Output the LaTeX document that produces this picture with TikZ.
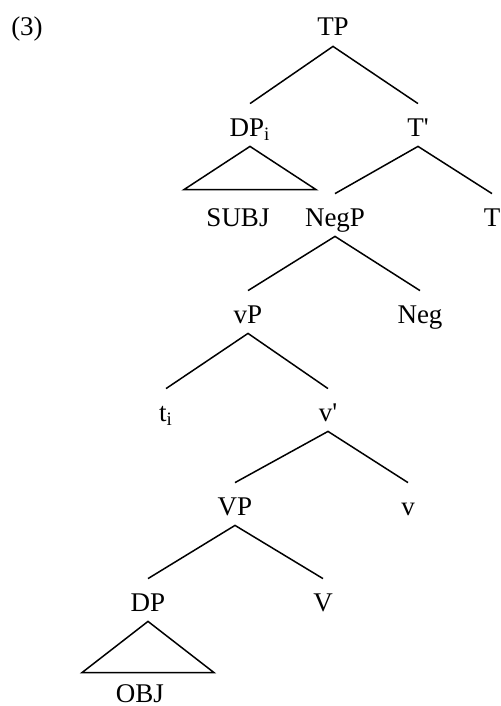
\documentclass[tikz,border=0pt]{standalone}
\usepackage{fontspec}
\setmainfont{Liberation Serif}
\usetikzlibrary{calc}
\tikzset{
    cat/.style={anchor=base, inner sep=0pt, text height=16pt, text depth=5pt},
    leaf/.style={anchor=base, inner sep=0pt, text height=18pt, text depth=5pt},
    branch/.style={line width=0.75pt}
}
\newcommand{\pr}{\textquotesingle}

\begin{document}
\begin{tikzpicture}[x=0.5pt, y=-0.5pt, font=\fontsize{13.5}{16}\selectfont]
    \useasboundingbox (0,0) rectangle (501,706);
    \node[anchor=base, inner sep=0pt] (ex) at (27,36) {(3)};
    % categories, placed on their baselines
    \node[cat] (tp)   at (333,36)  {TP};
    \node[cat] (dpi)  at (250,136) {DP\textsubscript{i}};
    \node[cat] (tbar) at (418,136) {T\pr};
    \node[leaf] (subj) at (238,226) {SUBJ};
    \node[cat] (negp) at (335,226) {NegP};
    \node[cat] (t)    at (492,226) {T};
    \node[cat] (vp)   at (248,323) {vP};
    \node[cat] (neg)  at (420,323) {Neg};
    \node[cat] (ti)   at (166,421) {t\textsubscript{i}};
    \node[cat] (vbar) at (328,421) {v\pr};
    \node[cat] (bvp)  at (235,515) {VP};
    \node[cat] (v)    at (408,515) {v};
    \node[cat] (dp)   at (148,611) {DP};
    \node[cat] (bv)   at (323,611) {V};
    \node[leaf, text height=14.5pt, text depth=0.5pt] (obj) at (140,702) {OBJ};
    % branches
    \draw[branch] (dpi.north) -- (tp.south) -- (tbar.north);
    \draw[branch] (negp.north) -- (tbar.south) -- (t.north);
    \draw[branch] (vp.north) -- (negp.south) -- (neg.north);
    \draw[branch] (ti.north) -- (vp.south) -- (vbar.north);
    \draw[branch] (bvp.north) -- (vbar.south) -- (v.north);
    \draw[branch] (dp.north) -- (bvp.south) -- (bv.north);
    % triangles over unanalysed phrases
    \draw[branch] (dpi.south) -- ($(dpi.south |- subj.north)+(-66,0)$)
        -- ($(dpi.south |- subj.north)+(66,0)$) -- cycle;
    \draw[branch] (dp.south) -- ($(dp.south |- obj.north)+(-66,0)$)
        -- ($(dp.south |- obj.north)+(66,0)$) -- cycle;
\end{tikzpicture}
\end{document}
